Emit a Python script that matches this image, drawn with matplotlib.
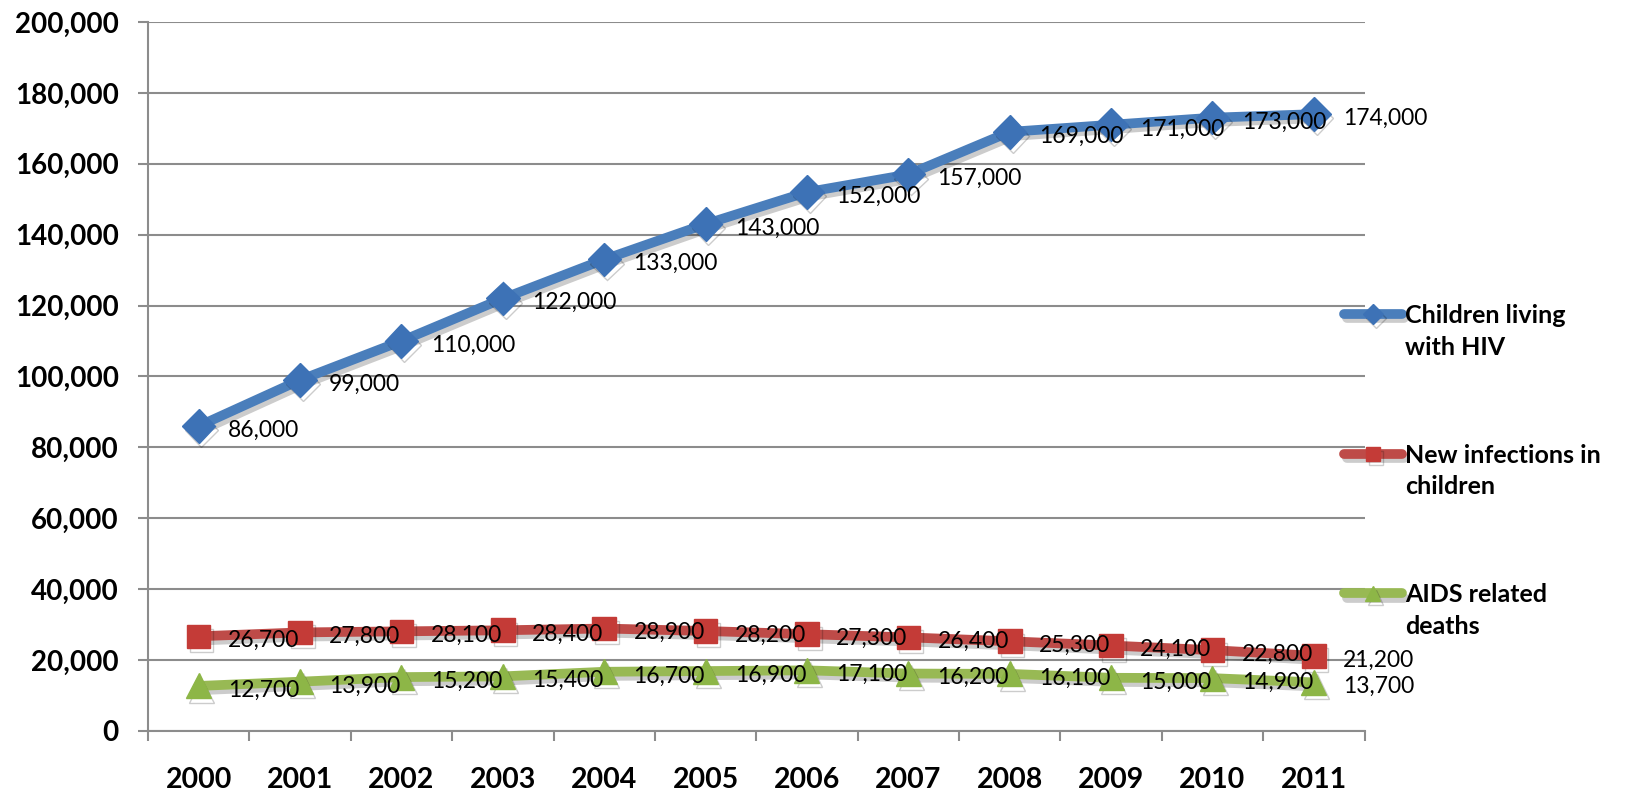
import numpy as np
import matplotlib
matplotlib.use("Agg")
import matplotlib.pyplot as plt
import matplotlib.patheffects as pe
from matplotlib.ticker import FuncFormatter, FixedLocator
from matplotlib.legend_handler import HandlerLine2D

years = ['2000', '2001', '2002', '2003', '2004', '2005',
         '2006', '2007', '2008', '2009', '2010', '2011']
living = [86000, 99000, 110000, 122000, 133000, 143000,
          152000, 157000, 169000, 171000, 173000, 174000]
new_inf = [26700, 27800, 28100, 28400, 28900, 28200,
           27300, 26400, 25300, 24100, 22800, 21200]
deaths = [12700, 13900, 15200, 15400, 16700, 16900,
          17100, 16200, 16100, 15000, 14900, 13700]

series = [
    ("Children living\nwith HIV", living, "#4A7EBB", "#3D72B6", "D", 17),
    ("New infections in\nchildren", new_inf, "#BE4B48", "#C43B37", "s", 17),
    ("AIDS related\ndeaths", deaths, "#98B954", "#8DB647", "^", 18),
]


# legend handle sits next to the first line of the label, like excel
class FirstLineHandler(HandlerLine2D):
    def create_artists(self, legend, orig_handle, xdescent, ydescent,
                       width, height, fontsize, trans):
        arts = super().create_artists(legend, orig_handle, xdescent, ydescent,
                                      width, height, fontsize, trans)
        for a in arts:
            a.set_ydata(np.asarray(a.get_ydata()) + 0.72 * fontsize)
        return arts


plt.rcParams['font.family'] = ['Lato', 'DejaVu Sans']

fig = plt.figure(figsize=(16.5, 7.96), dpi=100)
ax = fig.add_axes([0.0897, 0.0817, 0.7373, 0.8907])

x = np.arange(len(years))
shadow = [pe.SimpleLineShadow(offset=(2, -3), alpha=0.2, shadow_color='k'), pe.Normal()]
for name, vals, lc, mc, mk, ms in series:
    ax.plot(x, vals, color=lc, lw=7, marker=mk, markersize=ms,
            markerfacecolor=mc, markeredgecolor=mc, label=name,
            solid_capstyle='round', path_effects=shadow, zorder=3)
    for xi, v in zip(x, vals):
        ax.annotate(f"{v:,}", (xi, v), xytext=(21, -3), textcoords='offset points',
                    ha='left', va='center', fontsize=16.5, color='black', zorder=4)

ax.set_xlim(-0.5, len(years) - 0.5)
ax.set_ylim(0, 200000)
ax.set_yticks(np.arange(0, 200001, 20000))
ax.yaxis.set_major_formatter(FuncFormatter(lambda v, p: f"{int(v):,}"))
ax.yaxis.grid(True, color='#8C8C8C', lw=1.5)
ax.set_axisbelow(True)

ax.xaxis.set_major_locator(FixedLocator(np.arange(-0.5, len(years), 1.0)))
ax.xaxis.set_major_formatter(FuncFormatter(lambda v, p: ""))
ax.xaxis.set_minor_locator(FixedLocator(x))
ax.set_xticks(x, years, minor=True)

ax.tick_params(axis='y', length=7, width=1.5, color='#8C8C8C', pad=14,
               labelsize=20)
ax.tick_params(axis='x', which='major', length=7, width=1.5, color='#8C8C8C')
ax.tick_params(axis='x', which='minor', length=0, pad=26, labelsize=20.5)
for lab in ax.get_yticklabels() + ax.get_xticklabels(minor=True):
    lab.set_fontweight('bold')

for s in ['top', 'right']:
    ax.spines[s].set_visible(False)
for s in ['left', 'bottom']:
    ax.spines[s].set_color('#8C8C8C')
    ax.spines[s].set_linewidth(1.5)

handler = FirstLineHandler()
leg = ax.legend(loc='upper left', bbox_to_anchor=(0.975, 0.616), frameon=False,
                prop={'weight': 'bold', 'size': 18}, handlelength=2.3,
                handletextpad=0.15, labelspacing=3.4, borderaxespad=0,
                markerscale=0.6,
                handler_map={l: handler for l in ax.get_lines()})
for t in leg.get_texts():
    t.set_linespacing(1.45)

fig.savefig("out.png", dpi=100)
